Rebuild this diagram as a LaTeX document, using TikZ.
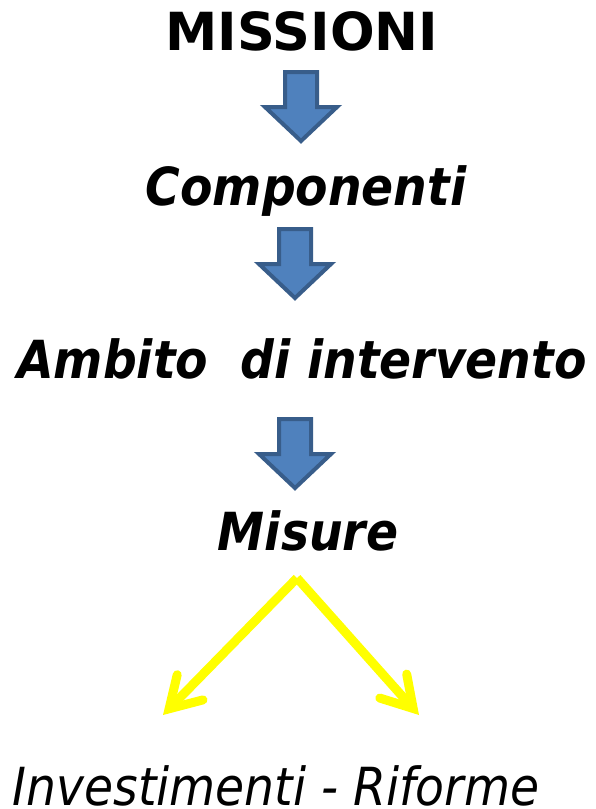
\documentclass[tikz,border=0pt]{standalone}
\usepackage{fontspec}
\setmainfont{DejaVu Sans Condensed}
\newfontfamily\widesans{DejaVu Sans}
\usetikzlibrary{arrows.meta}
\definecolor{arrowfill}{HTML}{4F81BD}
\definecolor{arrowline}{HTML}{385D8A}
\definecolor{splityellow}{HTML}{FFFF00}
\tikzset{
  title/.style={font=\fontsize{52.5}{60}\selectfont\widesans\bfseries, anchor=base, inner sep=0pt},
  level/.style={font=\fontsize{52.5}{60}\selectfont\bfseries\itshape, anchor=base, inner sep=0pt},
  leaf/.style={font=\fontsize{52.5}{60}\selectfont\itshape, anchor=base, inner sep=0pt},
  downarrow/.pic={
    \draw[arrowline, fill=arrowfill, line width=4pt]
      (-16,0) -- (16,0) -- (16,35) -- (36,35) -- (0,69) -- (-36,35) -- (-16,35) -- cycle;
  },
  split/.style={splityellow, line width=9pt, -{Straight Barb[length=30pt, width=36pt, line cap=round]}}
}

\begin{document}
\begin{tikzpicture}[x=1pt, y=-1pt]
      \useasboundingbox (0,0) rectangle (596,809);

      \node[title] (missioni) at (302,50) {MISSIONI};
      \pic at (301,72) {downarrow};
      \node[level] (componenti) at (306,205) {Componenti};
      \pic at (295,229) {downarrow};
      \node[level] (ambito) at (302,378) {Ambito\ \ di intervento};
      \pic at (295,419) {downarrow};
      \node[level] (misure) at (308,550) {Misure};

      \coordinate (fork) at (297,578);
      \coordinate (inv) at (163,715);
      \coordinate (rif) at (419,715);
      \draw[split] (fork) -- (inv);
      \draw[split] (fork) -- (rif);

      \node[leaf] (rami) at (276,805) {Investimenti - Riforme};

    \end{tikzpicture}
\end{document}
